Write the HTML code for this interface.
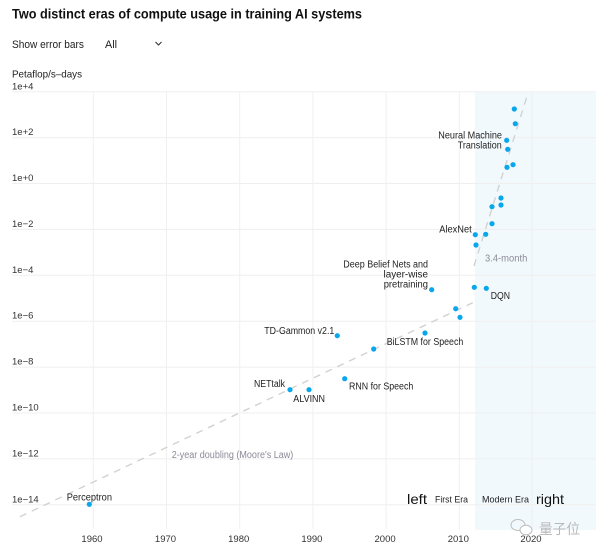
<!DOCTYPE html>
<html><head><meta charset="utf-8"><style>
html,body{margin:0;padding:0;background:#fff;width:600px;height:555px;overflow:hidden}
svg{display:block}
text{font-family:"Liberation Sans","Noto Sans CJK SC",sans-serif;fill:#222}
.ax{font-size:9.5px;fill:#333}
.lb{font-size:10px;fill:#222}
.gr{font-size:10px;fill:#8a8a98}
</style></head><body>
<svg width="600" height="555" viewBox="0 0 600 555" xmlns="http://www.w3.org/2000/svg">
<rect width="600" height="555" fill="#fff"/>
<text x="12" y="18.5" font-size="14" font-weight="bold" textLength="350" lengthAdjust="spacingAndGlyphs" style="fill:#111">Two distinct eras of compute usage in training AI systems</text>
<text x="12" y="48" font-size="11" textLength="72" lengthAdjust="spacingAndGlyphs">Show error bars</text>
<text x="105" y="48" font-size="11" textLength="12" lengthAdjust="spacingAndGlyphs">All</text>
<polyline points="155.5,42 158.5,45 161.5,42" fill="none" stroke="#333" stroke-width="1.1"/>
<text x="12" y="77.5" font-size="10.5" textLength="70" lengthAdjust="spacingAndGlyphs">Petaflop/s–days</text>

<!-- shaded modern era -->
<rect x="475" y="92" width="121" height="438" fill="#f2f9fc"/>

<!-- horizontal gridlines -->
<g stroke="#efefef" stroke-width="1">
<line x1="12" y1="91.7" x2="596" y2="91.7"/>
<line x1="12" y1="137.6" x2="596" y2="137.6"/>
<line x1="12" y1="183.5" x2="596" y2="183.5"/>
<line x1="12" y1="229.4" x2="596" y2="229.4"/>
<line x1="12" y1="275.3" x2="596" y2="275.3"/>
<line x1="12" y1="321.2" x2="596" y2="321.2"/>
<line x1="12" y1="367.1" x2="596" y2="367.1"/>
<line x1="12" y1="413" x2="596" y2="413"/>
<line x1="12" y1="458.9" x2="596" y2="458.9"/>
<line x1="12" y1="504.8" x2="596" y2="504.8"/>
</g>
<!-- vertical gridlines -->
<g stroke="#f0f0f0" stroke-width="1">
<line x1="93.3" y1="92" x2="93.3" y2="529"/>
<line x1="166.5" y1="92" x2="166.5" y2="529"/>
<line x1="239.7" y1="92" x2="239.7" y2="529"/>
<line x1="312.9" y1="92" x2="312.9" y2="529"/>
<line x1="386.1" y1="92" x2="386.1" y2="529"/>
<line x1="459.3" y1="92" x2="459.3" y2="529"/>
<line x1="532" y1="92" x2="532" y2="529"/>
</g>

<!-- y labels -->
<g class="ax">
<text class="ax" x="12" y="89.5">1e+4</text>
<text class="ax" x="12" y="135.2">1e+2</text>
<text class="ax" x="12" y="181">1e+0</text>
<text class="ax" x="12" y="227">1e−2</text>
<text class="ax" x="12" y="272.8">1e−4</text>
<text class="ax" x="12" y="318.7">1e−6</text>
<text class="ax" x="12" y="364.6">1e−8</text>
<text class="ax" x="12" y="410.5">1e−10</text>
<text class="ax" x="12" y="456.5">1e−12</text>
<text class="ax" x="12" y="502.3">1e−14</text>
</g>
<!-- x labels -->
<g text-anchor="middle">
<text class="ax" x="92" y="542">1960</text>
<text class="ax" x="165.5" y="542">1970</text>
<text class="ax" x="238.7" y="542">1980</text>
<text class="ax" x="311.9" y="542">1990</text>
<text class="ax" x="385.1" y="542">2000</text>
<text class="ax" x="458.3" y="542">2010</text>
<text class="ax" x="531" y="542">2020</text>
</g>

<!-- trend lines -->
<line x1="20" y1="516.7" x2="472.7" y2="302.7" stroke="#d2d2d2" stroke-width="1.4" stroke-dasharray="7 6"/>
<line x1="474" y1="266" x2="528" y2="93" stroke="#d2d2d2" stroke-width="1.4" stroke-dasharray="7 6"/>

<!-- dots -->
<g fill="#08a6ea">
<circle cx="514.3" cy="109" r="2.6"/>
<circle cx="515.3" cy="123.7" r="2.6"/>
<circle cx="506.7" cy="140.3" r="2.6"/>
<circle cx="507.7" cy="149.3" r="2.6"/>
<circle cx="507" cy="167.3" r="2.6"/>
<circle cx="513" cy="164.7" r="2.6"/>
<circle cx="501" cy="198" r="2.6"/>
<circle cx="492" cy="206.7" r="2.6"/>
<circle cx="501" cy="205" r="2.6"/>
<circle cx="492" cy="223.7" r="2.6"/>
<circle cx="475.3" cy="234.7" r="2.6"/>
<circle cx="485.7" cy="234.3" r="2.6"/>
<circle cx="476" cy="245" r="2.6"/>
<circle cx="431.7" cy="289.7" r="2.6"/>
<circle cx="474.3" cy="287.3" r="2.6"/>
<circle cx="486.3" cy="288.3" r="2.6"/>
<circle cx="455.7" cy="308.7" r="2.6"/>
<circle cx="460" cy="317.3" r="2.6"/>
<circle cx="425" cy="333" r="2.6"/>
<circle cx="337.3" cy="335.7" r="2.6"/>
<circle cx="373.7" cy="349" r="2.6"/>
<circle cx="344.7" cy="378.7" r="2.6"/>
<circle cx="290" cy="389.7" r="2.6"/>
<circle cx="309" cy="389.7" r="2.6"/>
<circle cx="89.3" cy="504.3" r="2.6"/>
</g>

<!-- data labels -->
<text class="lb" x="438.3" y="138.5" textLength="63.7" lengthAdjust="spacingAndGlyphs">Neural Machine</text>
<text class="lb" x="457.7" y="148.5" textLength="44" lengthAdjust="spacingAndGlyphs">Translation</text>
<text class="lb" x="439.3" y="232.5" textLength="32.4" lengthAdjust="spacingAndGlyphs">AlexNet</text>
<text class="gr" x="485" y="261.5" textLength="42.3" lengthAdjust="spacingAndGlyphs">3.4-month</text>
<text class="lb" x="343.3" y="267.5" textLength="84.7" lengthAdjust="spacingAndGlyphs">Deep Belief Nets and</text>
<text class="lb" x="383.5" y="277.5" font-size="9.6" textLength="44.5" lengthAdjust="spacingAndGlyphs">layer-wise</text>
<text class="lb" x="383.7" y="287.5" textLength="44.3" lengthAdjust="spacingAndGlyphs">pretraining</text>
<text class="lb" x="490.7" y="299.2" textLength="19.3" lengthAdjust="spacingAndGlyphs">DQN</text>
<text class="lb" x="264.3" y="333.8" textLength="70" lengthAdjust="spacingAndGlyphs">TD-Gammon v2.1</text>
<text class="lb" x="386.7" y="345.2" textLength="76.6" lengthAdjust="spacingAndGlyphs">BiLSTM for Speech</text>
<text class="lb" x="254" y="386.8" textLength="31" lengthAdjust="spacingAndGlyphs">NETtalk</text>
<text class="lb" x="293.3" y="402.2" textLength="31.7" lengthAdjust="spacingAndGlyphs">ALVINN</text>
<text class="lb" x="349" y="389.5" textLength="64.3" lengthAdjust="spacingAndGlyphs">RNN for Speech</text>
<text class="lb" x="66.7" y="500.5" textLength="45.3" lengthAdjust="spacingAndGlyphs">Perceptron</text>
<text class="gr" x="171.7" y="457.8" textLength="121.6" lengthAdjust="spacingAndGlyphs">2-year doubling (Moore's Law)</text>

<text x="407" y="504" font-size="14" textLength="20" lengthAdjust="spacingAndGlyphs" style="fill:#111">left</text>
<text x="435" y="502.3" font-size="9.5" textLength="33" lengthAdjust="spacingAndGlyphs">First Era</text>
<text x="482" y="502.3" font-size="9.5" textLength="47" lengthAdjust="spacingAndGlyphs">Modern Era</text>
<text x="536" y="504" font-size="14" textLength="28" lengthAdjust="spacingAndGlyphs" style="fill:#111">right</text>

<!-- watermark -->
<g fill="none" stroke="#bdbdbd" stroke-width="1">
<ellipse cx="518" cy="525" rx="7" ry="5.5"/>
<ellipse cx="526" cy="530" rx="6" ry="4.8" fill="#fff"/>
</g>
<text x="539" y="534" font-size="14" textLength="41" lengthAdjust="spacingAndGlyphs" style="fill:#b8b8b8;font-family:'Noto Sans CJK SC','WenQuanYi Zen Hei',sans-serif">量子位</text>
</svg>
</body></html>
